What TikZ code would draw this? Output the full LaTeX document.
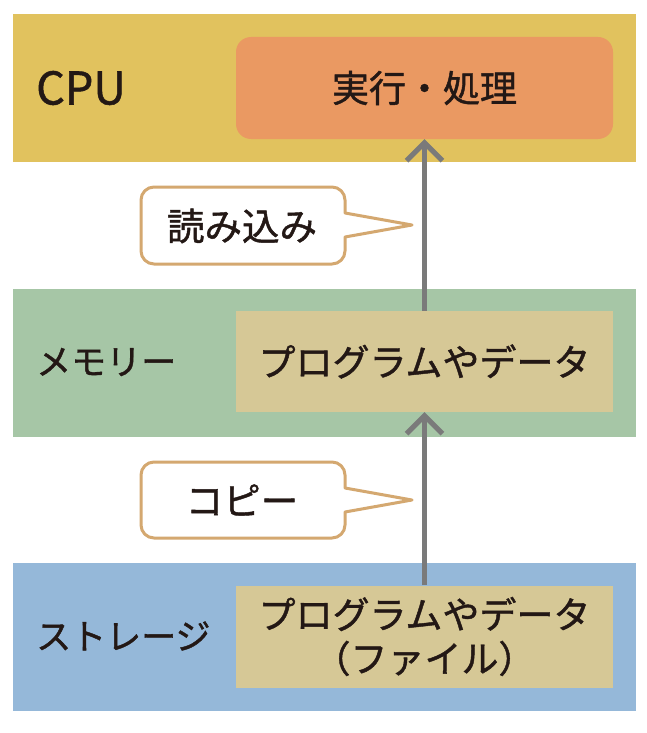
\documentclass[tikz,border=0pt]{standalone}
\usepackage{fontspec}
\setmainfont{Noto Sans CJK JP}[FakeBold=1.2]
\usetikzlibrary{arrows.meta}
\definecolor{cpuband}{HTML}{E1C25E}
\definecolor{cpubox}{HTML}{EA9962}
\definecolor{memband}{HTML}{A6C6A6}
\definecolor{databox}{HTML}{D6C896}
\definecolor{stoband}{HTML}{95B8D9}
\definecolor{txt}{HTML}{231815}
\definecolor{callbd}{HTML}{D4A870}
\definecolor{arrowgray}{HTML}{7A7A7A}
\begin{document}
\begin{tikzpicture}[x=1pt,y=-1pt,
  band/.style={draw=none,minimum width=623pt,minimum height=148pt,inner sep=0pt},
  itembox/.style={draw=none,minimum width=377pt,minimum height=102pt,inner sep=0pt,text=txt,font=\fontsize{37}{44}\selectfont,align=center},
  label/.style={anchor=west,inner sep=0pt,text=txt,font=\fontsize{35}{40}\selectfont},
  calltext/.style={inner sep=0pt,text=txt,font=\fontsize{37.5}{40}\selectfont},
  callout/.style={draw=callbd,line width=3pt,fill=white,line join=round},
  flow/.style={draw=arrowgray,line width=5pt,-{Straight Barb[length=18pt,width=36pt,line width=5pt]}}]
\useasboundingbox (0,0) rectangle (647,733);
\fill[white] (0,0) rectangle (647,733);
% bands
\node[band,fill=cpuband] (cpu) at (324.5,88) {};
\node[band,fill=memband] (mem) at (324.5,362.5) {};
\node[band,fill=stoband] (sto) at (324.5,636.5) {};
% inner boxes
\node[itembox,fill=cpubox,rounded corners=15pt] (exec) at (424.5,88) {実行・処理};
\node[itembox,fill=databox,minimum height=101pt] (memdata) at (424.5,361.5) {プログラムやデータ};
\node[itembox,fill=databox] (stodata) at (424.5,636.5) {プログラムやデータ\\（ファイル）};
% band labels
\node[label,font=\fontsize{45}{46}\selectfont] (cpulbl) at (36,88) {CPU};
\node[label] (memlbl) at (36,362) {メモリー};
\node[label] (stolbl) at (36,636) {ストレージ};
% arrows
\draw[flow] (memdata.north) -- (exec.south);
\draw[flow] (stodata.north) -- (memdata.south);
% callouts
\coordinate (tip1) at (412,225);
\coordinate (tip2) at (412,500);
\draw[callout] (345,213) [rounded corners=13pt] -- (345,187) -- (141,187) -- (141,264) -- (345,264) [sharp corners] -- (345,237) -- (tip1) -- cycle;
\node[calltext] (read) at (242,226) {読み込み};
\draw[callout] (345,488) [rounded corners=13pt] -- (345,462) -- (141,462) -- (141,538) -- (345,538) [sharp corners] -- (345,512) -- (tip2) -- cycle;
\node[calltext] (copy) at (242,500) {コピー};
\end{tikzpicture}
\end{document}
